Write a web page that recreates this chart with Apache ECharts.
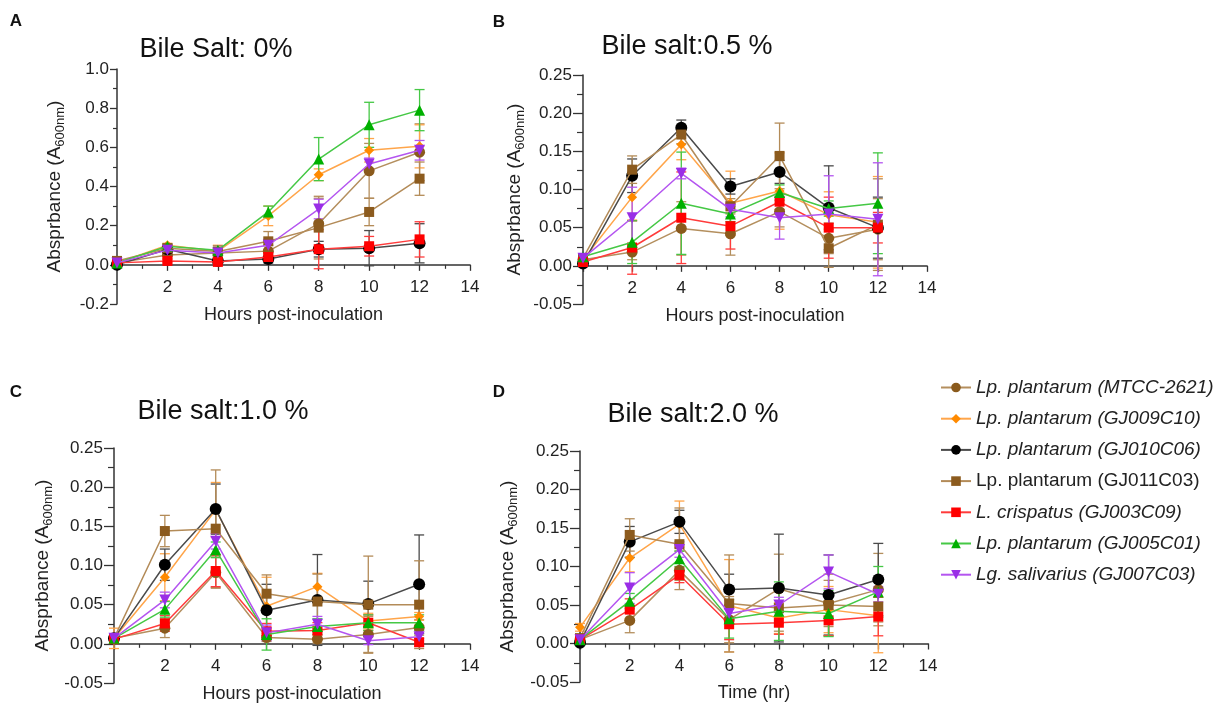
<!DOCTYPE html>
<html>
<head>
<meta charset="utf-8">
<script src="https://cdn.jsdelivr.net/npm/echarts@6/dist/echarts.min.js"></script>
<style>
  html, body { margin: 0; padding: 0; background: #fff; }
  #chart { width: 1228px; height: 705px; }
</style>
</head>
<body>
<div id="chart"></div>
<script>
// sampling times (hours)
const hours = [0, 2, 4, 6, 8, 10, 12];

// strains, in legend order
const strains = [
  'Lp. plantarum (MTCC-2621)',
  'Lp. plantarum (GJ009C10)',
  'Lp. plantarum (GJ010C06)',
  'Lp. plantarum (GJ011C03)',
  'L. crispatus (GJ003C09)',
  'Lp. plantarum (GJ005C01)',
  'Lg. salivarius (GJ007C03)'
];

// mean absorbance, one row per strain (same order as strains)
const bile0Mean = [
  [0.010, 0.050, 0.060, 0.070, 0.210, 0.480, 0.575],
  [0.010, 0.100, 0.070, 0.250, 0.460, 0.585, 0.605],
  [0.000, 0.080, 0.020, 0.030, 0.080, 0.085, 0.110],
  [0.020, 0.085, 0.068, 0.120, 0.190, 0.270, 0.440],
  [0.010, 0.020, 0.015, 0.040, 0.080, 0.095, 0.130],
  [0.010, 0.095, 0.075, 0.270, 0.540, 0.715, 0.790],
  [0.010, 0.075, 0.060, 0.100, 0.285, 0.515, 0.585]
];
const bile0Err = [
  [0.005, 0.020, 0.020, 0.030, 0.130, 0.140, 0.145],
  [0.005, 0.010, 0.030, 0.050, 0.030, 0.060, 0.110],
  [0.005, 0.020, 0.010, 0.020, 0.040, 0.090, 0.100],
  [0.005, 0.020, 0.030, 0.050, 0.160, 0.070, 0.085],
  [0.005, 0.010, 0.010, 0.020, 0.100, 0.050, 0.090],
  [0.005, 0.010, 0.010, 0.030, 0.110, 0.115, 0.105],
  [0.005, 0.010, 0.010, 0.030, 0.050, 0.030, 0.050]
];

const bile05Mean = [
  [0.008, 0.018, 0.049, 0.042, 0.071, 0.036, 0.048],
  [0.008, 0.090, 0.159, 0.082, 0.098, 0.067, 0.057],
  [0.003, 0.118, 0.181, 0.104, 0.123, 0.076, 0.050],
  [0.010, 0.126, 0.172, 0.078, 0.144, 0.023, 0.054],
  [0.005, 0.024, 0.063, 0.052, 0.084, 0.050, 0.050],
  [0.012, 0.031, 0.082, 0.068, 0.096, 0.075, 0.082],
  [0.010, 0.063, 0.121, 0.074, 0.063, 0.068, 0.061]
];
const bile05Err = [
  [0.003, 0.010, 0.035, 0.028, 0.020, 0.020, 0.040],
  [0.003, 0.030, 0.020, 0.042, 0.050, 0.030, 0.060],
  [0.003, 0.022, 0.010, 0.010, 0.015, 0.055, 0.040],
  [0.003, 0.018, 0.012, 0.010, 0.043, 0.025, 0.060],
  [0.003, 0.035, 0.060, 0.030, 0.010, 0.040, 0.020],
  [0.003, 0.028, 0.067, 0.010, 0.010, 0.010, 0.066],
  [0.003, 0.040, 0.007, 0.010, 0.028, 0.050, 0.074]
];

const bile10Mean = [
  [0.007, 0.020, 0.091, 0.008, 0.006, 0.012, 0.021],
  [0.007, 0.085, 0.171, 0.048, 0.073, 0.029, 0.035],
  [0.007, 0.101, 0.172, 0.043, 0.056, 0.051, 0.076],
  [0.007, 0.144, 0.147, 0.064, 0.054, 0.050, 0.050],
  [0.006, 0.026, 0.093, 0.016, 0.017, 0.027, 0.002],
  [0.007, 0.044, 0.120, 0.012, 0.022, 0.027, 0.027],
  [0.007, 0.056, 0.131, 0.014, 0.025, 0.004, 0.009]
];
const bile10Err = [
  [0.004, 0.012, 0.020, 0.005, 0.005, 0.023, 0.010],
  [0.013, 0.030, 0.035, 0.037, 0.017, 0.010, 0.005],
  [0.004, 0.020, 0.032, 0.033, 0.058, 0.029, 0.063],
  [0.004, 0.020, 0.075, 0.024, 0.035, 0.062, 0.056],
  [0.004, 0.010, 0.020, 0.010, 0.010, 0.010, 0.005],
  [0.004, 0.010, 0.010, 0.020, 0.010, 0.010, 0.010],
  [0.004, 0.010, 0.010, 0.010, 0.010, 0.005, 0.005]
];

const bile20Mean = [
  [0.005, 0.030, 0.095, 0.031, 0.071, 0.052, 0.070],
  [0.021, 0.111, 0.155, 0.049, 0.033, 0.044, 0.036],
  [0.001, 0.132, 0.158, 0.070, 0.072, 0.063, 0.083],
  [0.007, 0.141, 0.129, 0.052, 0.046, 0.050, 0.048],
  [0.005, 0.044, 0.089, 0.025, 0.027, 0.030, 0.035],
  [0.005, 0.055, 0.110, 0.032, 0.042, 0.039, 0.067],
  [0.005, 0.072, 0.122, 0.039, 0.050, 0.093, 0.064]
];
const bile20Err = [
  [0.003, 0.016, 0.025, 0.030, 0.045, 0.030, 0.047],
  [0.005, 0.018, 0.030, 0.060, 0.020, 0.030, 0.048],
  [0.003, 0.020, 0.015, 0.020, 0.070, 0.052, 0.047],
  [0.003, 0.021, 0.047, 0.063, 0.030, 0.040, 0.020],
  [0.003, 0.014, 0.010, 0.020, 0.015, 0.020, 0.025],
  [0.003, 0.010, 0.010, 0.025, 0.038, 0.030, 0.033],
  [0.003, 0.020, 0.010, 0.010, 0.010, 0.022, 0.010]
];

// marker / line look per strain
const markerColors = ['#8a5a1c', '#ff8a00', '#000000', '#8c5b1e', '#ff0000', '#00b000', '#9a2ee6'];
const lineColors = ['#b48f5e', '#ffa54a', '#4a4a4a', '#b38b58', '#ff3b3b', '#45c845', '#b455f0'];
const symbols = ['circle', 'diamond', 'circle', 'rect', 'rect', 'triangle', 'triangle'];
const symbolRotates = [0, 0, 0, 0, 0, 0, 180];
const symbolSizes = [11, 10, 12, 10, 10, 11, 11];

// panel layout
const panels = [
  { title: 'Bile Salt: 0%', letter: 'A', mean: bile0Mean, err: bile0Err, yMin: -0.2, yMax: 1.0, yStep: 0.2, digits: 1,
    xName: 'Hours post-inoculation', grid: { left: 117, top: 69, width: 353, height: 235 },
    titlePos: [216, 50], letterPos: [16, 21], nameGap: 50, labelMargin: 8, tickLen: 7 },
  { title: 'Bile salt:0.5 %', letter: 'B', mean: bile05Mean, err: bile05Err, yMin: -0.05, yMax: 0.25, yStep: 0.05, digits: 2,
    xName: 'Hours post-inoculation', grid: { left: 583, top: 75, width: 344, height: 229 },
    titlePos: [687, 47], letterPos: [499, 22], nameGap: 56, labelMargin: 11, tickLen: 10 },
  { title: 'Bile salt:1.0 %', letter: 'C', mean: bile10Mean, err: bile10Err, yMin: -0.05, yMax: 0.25, yStep: 0.05, digits: 2,
    xName: 'Hours post-inoculation', grid: { left: 114, top: 448, width: 356, height: 235 },
    titlePos: [223, 412], letterPos: [16, 392], nameGap: 59, labelMargin: 11, tickLen: 10 },
  { title: 'Bile salt:2.0 %', letter: 'D', mean: bile20Mean, err: bile20Err, yMin: -0.05, yMax: 0.25, yStep: 0.05, digits: 2,
    xName: 'Time (hr)', grid: { left: 580, top: 451, width: 348, height: 231 },
    titlePos: [693, 415], letterPos: [499, 392], nameGap: 60, labelMargin: 11, tickLen: 10 }
];

const FONT = '"Liberation Sans", Arial, Helvetica, sans-serif';
const axisColor = '#333';

const chart = echarts.init(document.getElementById('chart'));

const grids = [], xAxes = [], yAxes = [], series = [], texts = [];

// error bar drawn through the axis scales
function renderErrorBar(color) {
  return function (params, api) {
    const x = api.value(0), y = api.value(1), e = api.value(2);
    const top = api.coord([x, y + e]);
    const bot = api.coord([x, y - e]);
    const hw = 5;
    const style = { stroke: color, lineWidth: 1.3 };
    return {
      type: 'group',
      children: [
        { type: 'line', shape: { x1: top[0], y1: top[1], x2: bot[0], y2: bot[1] }, style: style },
        { type: 'line', shape: { x1: top[0] - hw, y1: top[1], x2: top[0] + hw, y2: top[1] }, style: style },
        { type: 'line', shape: { x1: bot[0] - hw, y1: bot[1], x2: bot[0] + hw, y2: bot[1] }, style: style }
      ]
    };
  };
}

panels.forEach((p, pi) => {
  grids.push(Object.assign({ containLabel: false }, p.grid));

  // x axis sits on y = 0: shift it up from the grid bottom (line, ticks, labels and name together)
  const zeroOffset = -p.grid.height * (0 - p.yMin) / (p.yMax - p.yMin);

  xAxes.push({
    gridIndex: pi, type: 'value', min: 0, max: 14, interval: 2,
    position: 'bottom', offset: zeroOffset,
    axisLine: { show: true, onZero: false, lineStyle: { color: axisColor, width: 1.5 } },
    axisTick: { show: true, length: 6, lineStyle: { color: axisColor, width: 1.3 } },
    minorTick: { show: true, splitNumber: 2, length: 4, lineStyle: { color: axisColor, width: 1.2 } },
    splitLine: { show: false },
    axisLabel: { fontSize: 17, color: '#222', fontFamily: FONT, margin: 14,
      formatter: v => (v === 0 ? '' : String(v)) },
    name: p.xName, nameLocation: 'middle', nameGap: 41,
    nameTextStyle: { fontSize: 18, color: '#222', fontFamily: FONT }
  });

  yAxes.push({
    gridIndex: pi, type: 'value', min: p.yMin, max: p.yMax, interval: p.yStep,
    axisLine: { show: true, onZero: false, lineStyle: { color: axisColor, width: 1.5 } },
    axisTick: { show: true, length: p.tickLen, lineStyle: { color: axisColor, width: 1.3 } },
    minorTick: { show: true, splitNumber: 2, length: Math.round(p.tickLen * 0.6), lineStyle: { color: axisColor, width: 1.2 } },
    splitLine: { show: false },
    axisLabel: { fontSize: 17, color: '#222', fontFamily: FONT, margin: p.labelMargin,
      formatter: v => v.toFixed(p.digits) },
    name: 'Absprbance (A{sub|600nm})', nameLocation: 'middle', nameGap: p.nameGap,
    nameTextStyle: { fontSize: 19, color: '#222', fontFamily: FONT, lineHeight: 24,
      rich: { sub: { fontSize: 13, fontFamily: FONT, color: '#222', lineHeight: 12, verticalAlign: 'bottom' } } }
  });

  strains.forEach((name, si) => {
    const pts = hours.map((h, k) => [h, p.mean[si][k]]);
    const errs = hours.map((h, k) => [h, p.mean[si][k], p.err[si][k]]);

    series.push({
      name: name + ' sd ' + pi, type: 'custom', xAxisIndex: pi, yAxisIndex: pi,
      renderItem: renderErrorBar(lineColors[si]), data: errs, z: 2, silent: true,
      encode: { x: 0, y: 1 }
    });
    series.push({
      name: name, type: 'line', xAxisIndex: pi, yAxisIndex: pi, data: pts,
      symbol: symbols[si], symbolSize: symbolSizes[si], symbolRotate: symbolRotates[si],
      showSymbol: true, z: 3 + si,
      lineStyle: { color: lineColors[si], width: 1.5 },
      itemStyle: { color: markerColors[si] }
    });
  });

  texts.push({
    type: 'text', x: p.titlePos[0], y: p.titlePos[1],
    style: { text: p.title, font: '27px ' + FONT, fill: '#111', align: 'center', verticalAlign: 'middle' }
  });
  texts.push({
    type: 'text', x: p.letterPos[0], y: p.letterPos[1],
    style: { text: p.letter, font: 'bold 17px ' + FONT, fill: '#111', align: 'center', verticalAlign: 'middle' }
  });
});

chart.setOption({
  animation: false,
  backgroundColor: '#fff',
  grid: grids,
  xAxis: xAxes,
  yAxis: yAxes,
  graphic: texts,
  legend: {
    data: strains,
    orient: 'vertical',
    left: 940, top: 378,
    padding: 0,
    itemWidth: 30, itemHeight: 12, itemGap: 12.2,
    formatter: name => (name === 'Lp. plantarum (GJ011C03)' ? '{n|' + name + '}' : '{i|' + name + '}'),
    textStyle: {
      fontSize: 19, color: '#222', fontFamily: FONT,
      rich: {
        i: { fontSize: 19, fontStyle: 'italic', fontFamily: FONT, color: '#222', lineHeight: 18 },
        n: { fontSize: 19, fontFamily: FONT, color: '#222', lineHeight: 18 }
      }
    }
  },
  series: series
});
</script>
</body>
</html>
